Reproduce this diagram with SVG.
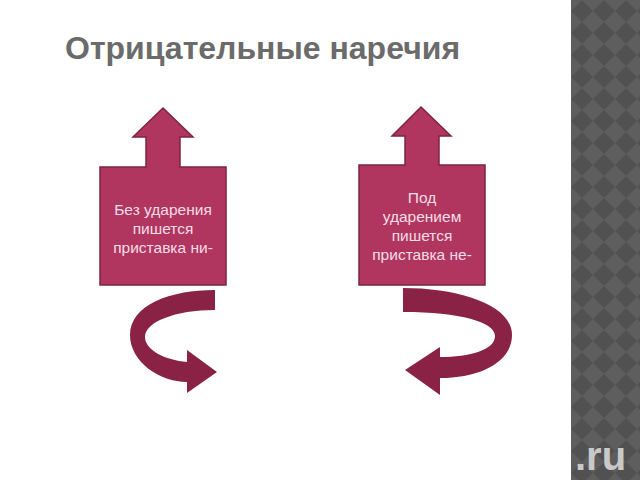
<svg xmlns="http://www.w3.org/2000/svg" width="640" height="480" viewBox="0 0 640 480">
<defs>
<pattern id="diam" x="571" y="0" width="22" height="22" patternUnits="userSpaceOnUse">
<rect width="22" height="22" fill="#5e5e5e"/>
<polygon points="11,0 22,11 11,22 0,11" fill="#515151"/>
</pattern>
<style>
.box{fill:#b1365f;stroke:#7d2344;stroke-width:1.5}
.curl{fill:#8a2246}
.lbl{font-family:"Liberation Sans",Arial,sans-serif;font-size:15.5px;fill:#f5dde6;text-anchor:middle}
.title{font-family:"Liberation Sans",Arial,sans-serif;font-size:32px;font-weight:bold;fill:#6b6b6b}
</style>
</defs>
<rect width="640" height="480" fill="#ffffff"/>
<rect x="571" y="0" width="69" height="480" fill="url(#diam)"/>
<text x="575" y="470" font-family="'Liberation Sans',Arial,sans-serif" font-size="40" font-weight="bold" fill="#c9c9c9">.ru</text>
<text class="title" x="65" y="59">Отрицательные наречия</text>
<g id="node-left">
<path class="box" d="M100,167 L146,167 L146,137 L133,137 L163,108 L193,137 L180,137 L180,167 L226,167 L226,285 L100,285 Z"/>
<text class="lbl" x="163" y="215">Без ударения</text>
<text class="lbl" x="163" y="234">пишется</text>
<text class="lbl" x="163" y="253">приставка ни-</text>
</g>
<g id="node-right">
<path class="box" d="M359,165 L405,165 L405,136 L392,136 L421,107 L451,136 L439,136 L439,165 L485,165 L485,285 L359,285 Z"/>
<text class="lbl" x="422" y="203">Под</text>
<text class="lbl" x="422" y="222">ударением</text>
<text class="lbl" x="422" y="241">пишется</text>
<text class="lbl" x="422" y="260">приставка не-</text>
</g>
<g id="connectors">
<path class="curl" d="M215,290 C170,290 130,305 130,335 C130,362 160,382 187,382 L187,393 L217,372 L187,350 L187,362 C165,360 145,350 145,337 C145,322 175,310 215,310 Z"/>
<path class="curl" d="M403,288 C460,288 512,305 512,335 C512,362 480,378 440,378 L440,395 L405,370 L440,347 L440,357 C470,357 495,350 495,336 C495,322 460,312 403,312 Z"/>
</g>
</svg>
